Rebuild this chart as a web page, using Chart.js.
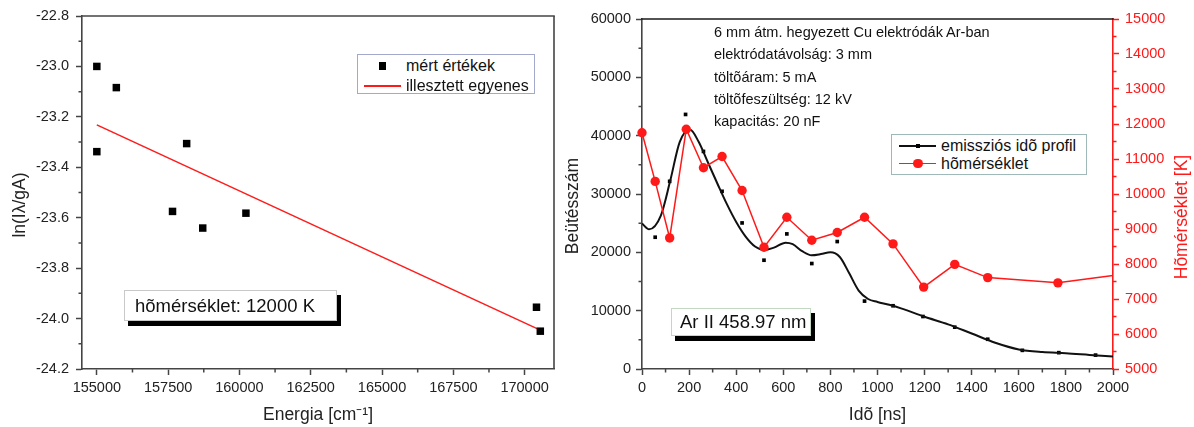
<!DOCTYPE html>
<html>
<head>
<meta charset="utf-8">
<script src="https://cdn.jsdelivr.net/npm/chart.js@4.4.1/dist/chart.umd.min.js"></script>
<style>
  body { margin: 0; width: 1194px; height: 427px; background: #fff; position: relative; overflow: hidden;
         font-family: "Liberation Sans", Arial, sans-serif; color: #111; }
  canvas { position: absolute; top: 0; }
  #bal { left: 0; }
  #jobb { left: 560px; }
  .doboz { position: absolute; background: #fff; box-sizing: border-box; }
  .sor { position: absolute; height: 20px; line-height: 20px; font-size: 16px; white-space: nowrap; }
  .jel { display: inline-block; position: relative; height: 20px; vertical-align: top; }
  .jel .vonal { position: absolute; left: 0; right: 0; top: 9.3px; height: 1.6px; }
  .jel .pont { position: absolute; }
  .felirat { position: absolute; font-size: 14.5px; white-space: nowrap; line-height: 18px; }
  .cimke { position: absolute; background: #fff; box-sizing: border-box; font-size: 18.5px; white-space: nowrap;
           box-shadow: 4px 5px 0 #000; }
  .fcim { position: absolute; width: 200px; height: 20px; line-height: 20px; text-align: center; font-size: 17.5px;
          transform: translate(-50%, -50%) rotate(-90deg); white-space: nowrap; color: #222; }
</style>
</head>
<body>
<canvas id="bal" width="560" height="427"></canvas>
<canvas id="jobb" width="634" height="427"></canvas>

<!-- függõleges tengelycímek -->
<div class="fcim" style="left:19px;top:205px">ln(Iλ/gA)</div>
<div class="fcim" style="left:572px;top:206px">Beütésszám</div>
<div class="fcim" style="left:1181px;top:217px;color:#ff1a1a">Hõmérséklet [K]</div>

<!-- bal grafikon jelmagyarázata -->
<div class="doboz" style="left:357px;top:54px;width:178px;height:40px;border:1px solid #a3a9cc">
  <div class="sor" style="left:6px;top:1px">
    <span class="jel" style="width:37px;margin-right:5px"><span class="pont" style="left:14.5px;top:6.2px;width:7.6px;height:7.6px;background:#000"></span></span>mért értékek
  </div>
  <div class="sor" style="left:6px;top:21px">
    <span class="jel" style="width:37px;margin-right:5px"><span class="vonal" style="background:#ff1a1a"></span></span>illesztett egyenes
  </div>
</div>
<div class="cimke" style="left:124px;top:290px;width:213px;height:31px;line-height:29px;padding-left:10px;border:1px solid #c9c9c9">hõmérséklet: 12000 K</div>

<!-- jobb grafikon feliratai -->
<div class="felirat" style="left:714px;top:23px">6 mm átm. hegyezett Cu elektródák Ar-ban</div>
<div class="felirat" style="left:714px;top:45px">elektródatávolság: 3 mm</div>
<div class="felirat" style="left:714px;top:67.5px">töltõáram: 5 mA</div>
<div class="felirat" style="left:714px;top:89.5px">töltõfeszültség: 12 kV</div>
<div class="felirat" style="left:714px;top:111.5px">kapacitás: 20 nF</div>

<div class="doboz" style="left:891px;top:134px;width:196px;height:41px;border:1px solid #9fb9b9">
  <div class="sor" style="left:7px;top:1px">
    <span class="jel" style="width:37px;margin-right:5px"><span class="vonal" style="background:#111"></span><span class="pont" style="left:16.5px;top:8px;width:4px;height:4px;background:#000"></span></span>emissziós idõ profil
  </div>
  <div class="sor" style="left:7px;top:18.5px">
    <span class="jel" style="width:37px;margin-right:5px"><span class="vonal" style="background:#ff1a1a"></span><span class="pont" style="left:14px;top:5.2px;width:9.5px;height:9.5px;border-radius:50%;background:#ff1a1a"></span></span>hõmérséklet
  </div>
</div>
<div class="cimke" style="left:671px;top:308px;width:140px;height:28px;line-height:26px;padding-left:8px;border:1px solid #c3d8c3">Ar II 458.97 nm</div>

<script>
// bal grafikon: Boltzmann-egyenes
const energia = [155000, 155684, 155000, 158150, 157654, 158713, 160228, 170416, 170550]
const lnErtekek = [-23.00, -23.084, -23.338, -23.306, -23.575, -23.641, -23.582, -23.955, -24.050]
const illesztX = [155000, 170550]
const illesztY = [-23.232, -24.046]
const energiaTickek = [155000, 157500, 160000, 162500, 165000, 167500, 170000]
const lnTickek = [-24.2, -24.0, -23.8, -23.6, -23.4, -23.2, -23.0, -22.8]

// jobb grafikon: emissziós idõ profil és hõmérséklet
const emisszioIdo = [56, 117.5, 185, 261, 340, 425, 518, 615, 721, 829, 945, 1066, 1193, 1328, 1468, 1615, 1770, 1926]
const beutesszam = [22590, 32170, 43640, 37300, 30460, 25040, 18650, 23160, 18080, 21850, 11640, 10840, 9000, 7170, 5100, 3200, 2800, 2380]
const gorbeIdo = [0, 30, 80, 120, 160, 204, 240, 280, 320, 360, 400, 440, 480, 520, 560, 610, 640, 680, 720, 760, 800, 840, 880, 920, 960, 1000, 1050, 1100, 1200, 1300, 1400, 1500, 1600, 1700, 1800, 1900, 2000]
const gorbeErtek = [24950, 23950, 26300, 32300, 38900, 41000, 39000, 35400, 31800, 28300, 25200, 22700, 21000, 20400, 20800, 21650, 21400, 20200, 19500, 19700, 20000, 19200, 16400, 13450, 12000, 11500, 11000, 10400, 8950, 7650, 6080, 4500, 3350, 2900, 2700, 2420, 2150]
const homIdo = [0, 56, 117.5, 188, 261, 340, 425, 518, 615, 721, 829, 945, 1066, 1196, 1328, 1468, 1766, 2000]
const homerseklet = [11750, 10360, 8745, 11850, 10750, 11070, 10100, 8480, 9335, 8680, 8900, 9335, 8575, 7340, 7990, 7612, 7462, 7670]
const idoTickek = [0, 200, 400, 600, 800, 1000, 1200, 1400, 1600, 1800, 2000]
const beutesTickek = [0, 10000, 20000, 30000, 40000, 50000, 60000]
const homTickek = [5000, 6000, 7000, 8000, 9000, 10000, 11000, 12000, 13000, 14000, 15000]

Chart.defaults.font.family = '"Liberation Sans", Arial, sans-serif'
Chart.defaults.color = '#222'

const parosit = (xs, ys) => xs.map((x, i) => ({ x: x, y: ys[i] }))

// kis tickek a fõ tickek között + keret vonalai
const finomTickek = {
  id: 'finomTickek',
  afterDraw(chart, args, opts) {
    const { ctx, chartArea: a } = chart
    ctx.save()
    for (const s of Object.values(chart.scales)) {
      const t = s.ticks.map(x => x.value)
      if (t.length < 2) continue
      const lepes = t[1] - t[0]
      ctx.strokeStyle = s.options.grid.tickColor
      ctx.lineWidth = 1.5
      ctx.beginPath()
      for (let v = t[0] - lepes / 2; v <= s.max + 1e-6; v += lepes) {
        if (v < s.min - 1e-6) continue
        const p = s.getPixelForValue(v)
        if (s.isHorizontal()) { ctx.moveTo(p, a.bottom); ctx.lineTo(p, a.bottom + 3.5) }
        else if (s.position === 'left') { ctx.moveTo(a.left, p); ctx.lineTo(a.left - 3.5, p) }
        else { ctx.moveTo(a.right, p); ctx.lineTo(a.right + 3.5, p) }
      }
      ctx.stroke()
    }
    ctx.lineWidth = 1.6
    if (opts.felso) {
      ctx.strokeStyle = opts.felso
      ctx.beginPath(); ctx.moveTo(a.left - 0.8, a.top); ctx.lineTo(a.right + 0.8, a.top); ctx.stroke()
    }
    if (opts.jobb) {
      ctx.strokeStyle = opts.jobb
      ctx.beginPath(); ctx.moveTo(a.right, a.top); ctx.lineTo(a.right, a.bottom); ctx.stroke()
    }
    ctx.restore()
  }
}

function tengely (tickek, szin, beall) {
  return Object.assign({
    type: 'linear',
    afterBuildTicks: s => { s.ticks = tickek.map(v => ({ value: v })) },
    border: { color: szin, width: 1.6 },
    grid: { drawOnChartArea: false, tickLength: 6, tickColor: szin, tickWidth: 1.5 },
  }, beall)
}

new Chart(document.getElementById('bal'), {
  type: 'scatter',
  data: {
    datasets: [
      {
        label: 'mért értékek',
        data: parosit(energia, lnErtekek),
        pointStyle: 'rect',
        pointRadius: 5.3,
        backgroundColor: '#000',
        borderColor: '#000',
        borderWidth: 0
      },
      {
        label: 'illesztett egyenes',
        type: 'line',
        data: parosit(illesztX, illesztY),
        borderColor: '#ff1a1a',
        borderWidth: 1.5,
        pointRadius: 0
      }
    ]
  },
  options: {
    responsive: false,
    animation: false,
    layout: { padding: { left: 0, right: 6, top: 16, bottom: 0 } },
    plugins: { legend: { display: false }, tooltip: { enabled: false }, finomTickek: { felso: '#444', jobb: '#444' } },
    scales: {
      x: tengely(energiaTickek, '#444', {
        min: 154480, max: 171030,
        afterFit: s => { s.height = 58 },
        ticks: { font: { size: 14.5 }, padding: 4, autoSkip: false, maxRotation: 0, callback: v => String(v) },
        title: { display: true, text: 'Energia [cm⁻¹]', font: { size: 17.5 }, padding: { top: 0, bottom: 1 } }
      }),
      y: tengely(lnTickek, '#444', {
        min: -24.2, max: -22.8,
        afterFit: s => { s.width = 82 },
        ticks: { font: { size: 14.5 }, padding: 7, callback: v => v.toFixed(1) }
      })
    }
  },
  plugins: [finomTickek]
})

new Chart(document.getElementById('jobb'), {
  type: 'line',
  data: {
    datasets: [
      {
        label: 'hõmérséklet',
        data: parosit(homIdo, homerseklet),
        yAxisID: 'y1',
        borderColor: '#ff1a1a',
        backgroundColor: '#ff1a1a',
        borderWidth: 1.5,
        pointRadius: c => (c.raw && c.raw.x >= 2000 ? 0 : 4.7),
        pointBorderWidth: 0,
        clip: false
      },
      {
        label: 'emissziós idõ profil',
        data: parosit(gorbeIdo, gorbeErtek),
        yAxisID: 'y',
        borderColor: '#111',
        borderWidth: 2,
        pointRadius: 0,
        cubicInterpolationMode: 'monotone'
      },
      {
        label: 'emissziós idõ profil pontok',
        type: 'scatter',
        data: parosit(emisszioIdo, beutesszam),
        yAxisID: 'y',
        pointStyle: 'rect',
        pointRadius: 2.6,
        backgroundColor: '#000',
        borderWidth: 0
      }
    ]
  },
  options: {
    responsive: false,
    animation: false,
    layout: { padding: { left: 0, right: 0, top: 19, bottom: 0 } },
    plugins: { legend: { display: false }, tooltip: { enabled: false }, finomTickek: { felso: '#1a1a1a' } },
    scales: {
      x: tengely(idoTickek, '#444', {
        min: 0, max: 2000,
        afterFit: s => { s.height = 58 },
        ticks: { font: { size: 14.5 }, padding: 4, autoSkip: false, maxRotation: 0, callback: v => String(v) },
        title: { display: true, text: 'Idõ [ns]', font: { size: 17.5 }, padding: { top: 0, bottom: 1 } }
      }),
      y: tengely(beutesTickek, '#444', {
        position: 'left',
        min: 0, max: 60000,
        afterFit: s => { s.width = 82 },
        ticks: { font: { size: 14.5 }, padding: 5, callback: v => String(v) }
      }),
      y1: tengely(homTickek, '#ff1a1a', {
        position: 'right',
        min: 5000, max: 15000,
        afterFit: s => { s.width = 81 },
        ticks: { font: { size: 14.5 }, color: '#ff1a1a', padding: 6, callback: v => String(v) }
      })
    }
  },
  plugins: [finomTickek]
})
</script>
</body>
</html>
